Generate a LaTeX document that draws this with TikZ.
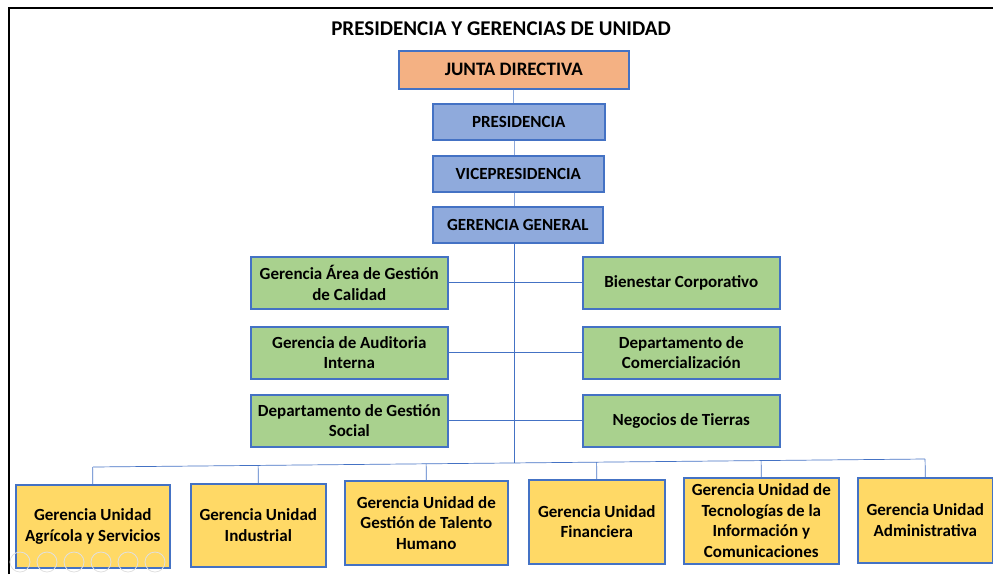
\documentclass[tikz,border=0pt]{standalone}
\usepackage{fontspec}
\setmainfont{Carlito}
\usetikzlibrary{calc}
\definecolor{bordblue}{HTML}{4472C4}
\definecolor{linkblue}{HTML}{8EA9DB}
\definecolor{jdfill}{HTML}{F4B183}
\definecolor{bluefill}{HTML}{8FAADC}
\definecolor{greenfill}{HTML}{A9D18E}
\definecolor{yellowfill}{HTML}{FFD966}
\tikzset{
  box/.style={draw=bordblue, line width=1.6pt, anchor=north west, inner sep=0pt,
    align=center, font=\fontsize{17}{20.5}\selectfont\bfseries},
  topbox/.style={box, fill=bluefill},
  greenbox/.style={box, fill=greenfill},
  yellowbox/.style={box, fill=yellowfill},
  link/.style={draw=bordblue, line width=0.7pt},
  toplink/.style={draw=linkblue, line width=1pt},
  frameline/.style={draw=black, line width=1.8pt},
  uiicon/.style={draw=black!12, line width=0.8pt}
}
\begin{document}
\begin{tikzpicture}[x=1pt,y=-1pt]
\useasboundingbox (0,0) rectangle (993,574);
\draw[frameline] (9,574) -- (9,8) -- (993,8);

\node[font=\fontsize{21}{24}\selectfont\bfseries] (title) at (501,29) {PRESIDENCIA Y GERENCIAS DE UNIDAD};

\node[box, fill=jdfill, minimum width=230, minimum height=38, font=\fontsize{19}{22}\selectfont\bfseries] (jd) at (398,50) {JUNTA DIRECTIVA};
\node[topbox, minimum width=172, minimum height=36] (pres) at (432,103) {PRESIDENCIA};
\node[topbox, minimum width=171, minimum height=36] (vice) at (432,155) {VICEPRESIDENCIA};
\node[topbox, minimum width=170, minimum height=36] (gg) at (432,206) {GERENCIA GENERAL};

\node[greenbox, minimum width=197, minimum height=52] (gl1) at (250,256) {Gerencia Área de Gestión\\de Calidad};
\node[greenbox, minimum width=197, minimum height=52] (gl2) at (250,326) {Gerencia de Auditoria\\Interna};
\node[greenbox, minimum width=197, minimum height=52] (gl3) at (250,394) {Departamento de Gestión\\Social};
\node[greenbox, minimum width=197, minimum height=52] (gr1) at (582,256) {Bienestar Corporativo};
\node[greenbox, minimum width=197, minimum height=52] (gr2) at (582,326) {Departamento de\\Comercialización};
\node[greenbox, minimum width=197, minimum height=52] (gr3) at (582,394) {Negocios de Tierras};

\node[yellowbox, minimum width=154, minimum height=83] (y1) at (15,484) {Gerencia Unidad\\Agrícola y Servicios};
\node[yellowbox, minimum width=135, minimum height=83] (y2) at (190,483) {Gerencia Unidad\\Industrial};
\node[yellowbox, minimum width=163, minimum height=84] (y3) at (344,480) {Gerencia Unidad de\\Gestión de Talento\\Humano};
\node[yellowbox, minimum width=136, minimum height=84] (y4) at (528,479) {Gerencia Unidad\\Financiera};
\node[yellowbox, minimum width=155, minimum height=86] (y5) at (683,477) {Gerencia Unidad de\\Tecnologías de la\\Información y\\Comunicaciones};
\node[yellowbox, minimum width=135, minimum height=85] (y6) at (857,477) {Gerencia Unidad\\Administrativa};

\coordinate (busL) at (93,467);
\coordinate (busR) at (925,459);
\coordinate (busM) at ($(busL)!0.506!(busR)$);

\draw[toplink] (jd.south) -- (jd.south |- pres.north);
\draw[toplink] ([xshift=-4pt]pres.south) -- ([xshift=-4pt]pres.south |- vice.north);
\draw[toplink] ([xshift=-3.5pt]vice.south) -- ([xshift=-3.5pt]vice.south |- gg.north);
\draw[link] ([xshift=-3pt]gg.south) -- ([xshift=-3pt]gg.south |- busM);
\draw[link] (gl1.east) -- (gr1.west);
\draw[link] (gl2.east) -- (gr2.west);
\draw[link] (gl3.east) -- (gr3.west);
\draw[link] (busL) -- (busR);
\foreach \n in {y1,y2,y3,y4,y5,y6}{
  \draw[link] (\n.north) -- ($(busL)!(\n.north)!(busR)$);
}

\foreach \i in {0,...,5}{
  \draw[uiicon] (20+27*\i,562) circle (10);
}
\end{tikzpicture}
\end{document}
